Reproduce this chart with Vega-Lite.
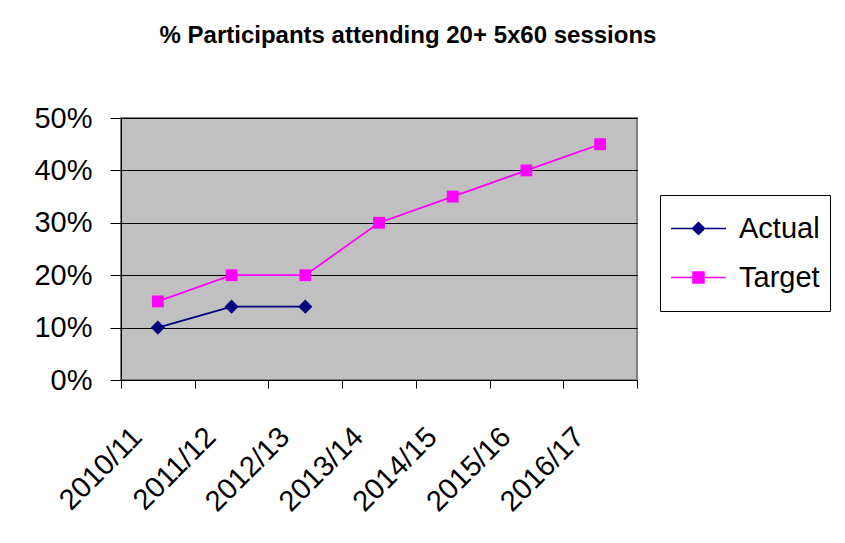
{
  "$schema": "https://vega.github.io/schema/vega-lite/v6.json",
  "width": 516,
  "height": 262,
  "autosize": "none",
  "padding": {"left": 121, "top": 118, "right": 208, "bottom": 163},
  "background": "white",
  "title": {
    "text": "% Participants attending 20+ 5x60 sessions",
    "font": "Liberation Sans",
    "fontSize": 24,
    "fontWeight": "bold",
    "color": "black",
    "anchor": "middle",
    "frame": "group",
    "baseline": "alphabetic",
    "dx": 29,
    "offset": 37
  },
  "data": {
    "values": [
      {"year": "2010/11", "series": "Actual", "pct": 0.10},
      {"year": "2011/12", "series": "Actual", "pct": 0.14},
      {"year": "2012/13", "series": "Actual", "pct": 0.14},
      {"year": "2010/11", "series": "Target", "pct": 0.15},
      {"year": "2011/12", "series": "Target", "pct": 0.20},
      {"year": "2012/13", "series": "Target", "pct": 0.20},
      {"year": "2013/14", "series": "Target", "pct": 0.30},
      {"year": "2014/15", "series": "Target", "pct": 0.35},
      {"year": "2015/16", "series": "Target", "pct": 0.40},
      {"year": "2016/17", "series": "Target", "pct": 0.45}
    ]
  },
  "encoding": {
    "x": {
      "field": "year",
      "type": "nominal",
      "sort": null,
      "scale": {"type": "band", "paddingInner": 0, "paddingOuter": 0},
      "axis": {
        "title": null,
        "domainColor": "black",
        "tickColor": "black",
        "tickSize": 8,
        "tickBand": "extent",
        "labelAngle": -45,
        "labelAlign": "right",
        "labelBaseline": "middle",
        "labelFont": "Liberation Sans",
        "labelFontSize": 29,
        "labelColor": "black",
        "labelPadding": 44,
        "labelOffset": -21,
        "grid": false
      }
    },
    "y": {
      "field": "pct",
      "type": "quantitative",
      "scale": {"domain": [0, 0.5], "nice": false},
      "axis": {
        "title": null,
        "values": [0, 0.1, 0.2, 0.3, 0.4, 0.5],
        "format": ".0%",
        "domainColor": "black",
        "tickColor": "black",
        "tickSize": 11,
        "labelFont": "Liberation Sans",
        "labelFontSize": 29,
        "labelColor": "black",
        "labelPadding": 18,
        "grid": true,
        "gridColor": "black"
      }
    },
    "color": {
      "field": "series",
      "type": "nominal",
      "scale": {"domain": ["Actual", "Target"], "range": ["#000080", "#FF00FF"]},
      "legend": {
        "title": null,
        "orient": "none",
        "legendX": 539,
        "legendY": 77,
        "strokeColor": "black",
        "fillColor": "white",
        "padding": 10,
        "rowPadding": 2,
        "clipHeight": 47,
        "labelFont": "Liberation Sans",
        "labelFontSize": 29,
        "labelColor": "black",
        "labelOffset": 12,
        "symbolSize": 3025,
        "symbolType": "M-1,0H1M-0.2,-0.2H0.2V0.2H-0.2Z",
        "encode": {
          "symbols": {
            "update": {
              "shape": {"signal": "datum.value === 'Actual' ? 'M-1,0H1M0,-0.22L0.22,0L0,0.22L-0.22,0Z' : 'M-1,0H1M-0.2,-0.2H0.2V0.2H-0.2Z'"},
              "fill": {"signal": "datum.value === 'Actual' ? '#000080' : '#FF00FF'"},
              "stroke": {"signal": "datum.value === 'Actual' ? '#000080' : '#FF00FF'"}
            }
          }
        }
      }
    }
  },
  "layer": [
    {"mark": {"type": "line", "strokeWidth": 1.75}},
    {
      "transform": [{"filter": "datum.series === 'Actual'"}],
      "mark": {"type": "point", "filled": true, "opacity": 0.99, "shape": "diamond", "size": 200}
    },
    {
      "transform": [{"filter": "datum.series === 'Target'"}],
      "mark": {"type": "point", "filled": true, "opacity": 0.99, "shape": "square", "size": 140}
    }
  ],
  "config": {
    "view": {"fill": "#C0C0C0", "stroke": "#808080", "strokeWidth": 2}
  }
}
